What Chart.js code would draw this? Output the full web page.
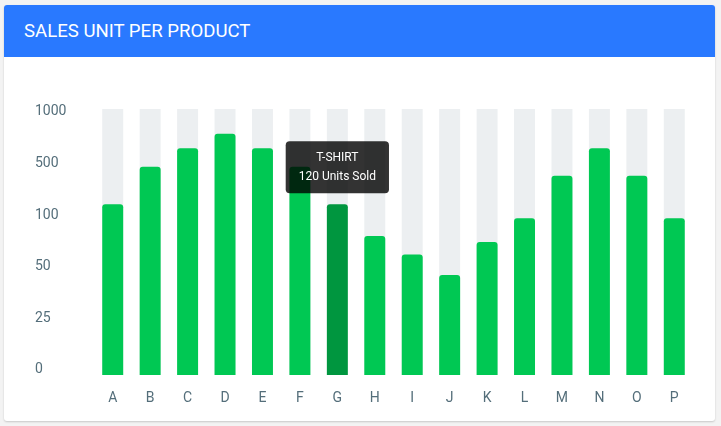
<!DOCTYPE html>
<html>
<head>
<meta charset="utf-8">
<script src="https://cdn.jsdelivr.net/npm/chart.js@4/dist/chart.umd.min.js"></script>
<style>
  html, body { margin: 0; padding: 0; background: #f3f3f3; }
  body { width: 721px; height: 426px; position: relative; overflow: hidden; font-family: Roboto, sans-serif; }
  .card { position: absolute; left: 4px; top: 5px; width: 711px; height: 416px; background: #fff;
          border-radius: 3px; box-shadow: 0 1px 2px rgba(0,0,0,0.18); overflow: hidden; }
  .card-header { height: 52px; line-height: 53px; background: #2979ff; color: #fff;
                 font-size: 18.6px; padding-left: 20px; }
  .card-body { position: absolute; left: 0; top: 52px; width: 711px; height: 364px; }
  canvas { display: block; }
</style>
</head>
<body>
<div class="card">
  <div class="card-header">SALES UNIT PER PRODUCT</div>
  <div class="card-body"><canvas id="c" width="711" height="364"></canvas></div>
</div>
<script>
// ---- data ----
const categories = ['A','B','C','D','E','F','G','H','I','J','K','L','M','N','O','P'];
const tickValues = [0, 25, 50, 100, 500, 1000];
const unitsSold = [170, 460, 630, 770, 630, 460, 170, 78, 60, 45, 72, 95, 390, 630, 390, 95];
const tooltipTitle = 'T-SHIRT';
const tooltipUnits = 120;
const activeIndex = 6;

// map a unit value onto the evenly spaced tick positions
function toPos(v) {
  for (let i = 0; i < tickValues.length - 1; i++) {
    if (v <= tickValues[i + 1]) return i + (v - tickValues[i]) / (tickValues[i + 1] - tickValues[i]);
  }
  return tickValues.length - 1;
}
const yMin = -0.136, yMax = 5.019;
const labelColor = '#546e7a';

const chart = new Chart(document.getElementById('c'), {
  type: 'bar',
  data: {
    labels: categories,
    datasets: [
      {
        data: unitsSold.map(toPos),
        base: yMin,
        grouped: false,
        backgroundColor: '#00c853',
        hoverBackgroundColor: '#00963f',
        borderRadius: 3,
        borderSkipped: 'start',
        barPercentage: 0.56,
        categoryPercentage: 1
      },
      {
        data: categories.map(() => yMax),
        base: yMin,
        grouped: false,
        backgroundColor: '#eceff1',
        hoverBackgroundColor: '#eceff1',
        borderRadius: 0,
        barPercentage: 0.56,
        categoryPercentage: 1
      }
    ]
  },
  options: {
    responsive: false,
    animation: false,
    events: [],
    layout: { padding: { left: 31, right: 22, top: 52, bottom: 16 } },
    plugins: {
      legend: { display: false },
      tooltip: {
        enabled: true,
        backgroundColor: 'rgba(0,0,0,0.8)',
        titleFont: { family: 'Roboto', size: 12, weight: 'normal' },
        bodyFont: { family: 'Roboto', size: 12 },
        titleColor: '#fff',
        bodyColor: '#fff',
        titleAlign: 'center',
        bodyAlign: 'center',
        titleMarginBottom: 5,
        padding: { x: 13, y: 9 },
        cornerRadius: 4,
        displayColors: false,
        caretSize: 0,
        caretPadding: 11,
        xAlign: 'center',
        yAlign: 'bottom',
        callbacks: {
          title: () => tooltipTitle,
          label: () => tooltipUnits + ' Units Sold'
        }
      }
    },
    scales: {
      x: {
        grid: { display: false, drawTicks: false },
        border: { display: false },
        ticks: { color: labelColor, font: { family: 'Roboto', size: 14 }, padding: 15 },
        afterFit: (axis) => { axis.height = 30; }
      },
      y: {
        min: yMin,
        max: yMax,
        grid: { display: false, drawTicks: false },
        border: { display: false },
        afterBuildTicks: (axis) => { axis.ticks = tickValues.map((t, i) => ({ value: i })); },
        ticks: {
          color: labelColor,
          font: { family: 'Roboto', size: 14 },
          crossAlign: 'far',
          padding: 0,
          labelOffset: 2,
          callback: (v, i) => String(tickValues[i])
        },
        afterFit: (axis) => { axis.width = 59; }
      }
    }
  }
});

const act = [{ datasetIndex: 0, index: activeIndex }];
chart.setActiveElements(act);
chart.tooltip.setActiveElements(act, { x: 0, y: 0 });
chart.update();
</script>
</body>
</html>
